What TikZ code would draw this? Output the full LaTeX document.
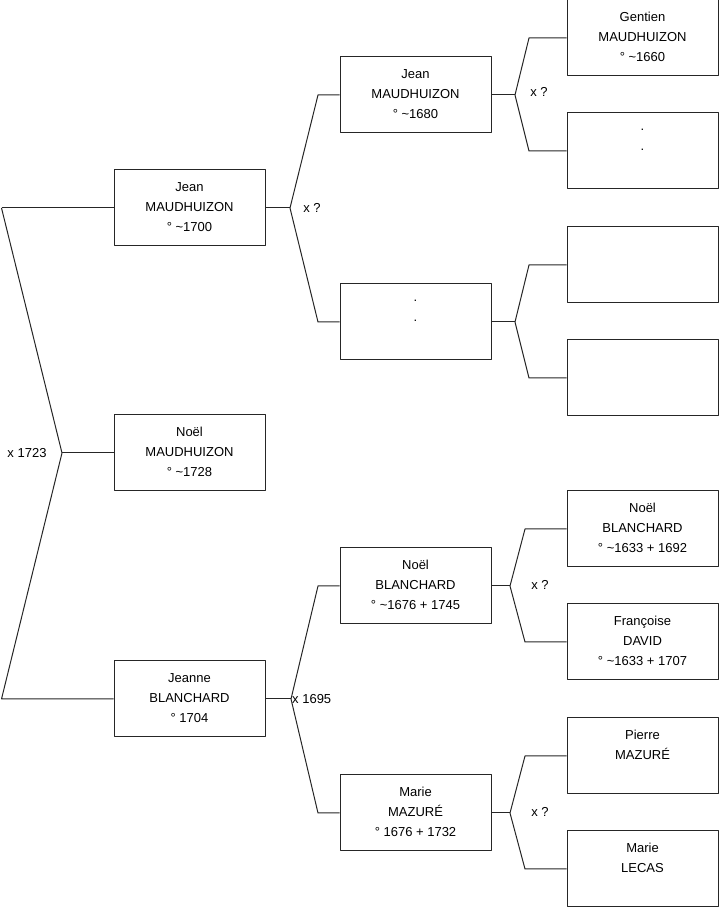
\documentclass[tikz,border=0pt]{standalone}
\usepackage{fontspec}
\setmainfont{Liberation Sans}
\begin{document}
\begin{tikzpicture}[line join=bevel,
  person/.style={draw=black!85,line width=1bp,minimum width=151bp,minimum height=76bp,inner sep=0pt,align=center,font=\fontsize{13bp}{20bp}\selectfont},
  union/.style={inner sep=0pt,font=\fontsize{13bp}{16bp}\selectfont},
  lien/.style={draw=black!85,line width=1bp}]
\useasboundingbox (0bp,0bp) rectangle (719bp,908bp);
%%
  \node (1) at (189.5bp,700.0bp) [person] {Jean\\MAUDHUIZON\\° \textasciitilde1700\vspace{2bp}};
  \node (2) at (189.5bp,455.0bp) [person] {Noël\\MAUDHUIZON\\° \textasciitilde1728\vspace{2bp}};
  \node (3) at (189.5bp,209.0bp) [person] {Jeanne\\BLANCHARD\\° 1704\vspace{2bp}};
  \node (4) at (415.5bp,813.0bp) [person] {Jean\\MAUDHUIZON\\° \textasciitilde1680\vspace{2bp}};
  \node (5) at (415.5bp,586.0bp) [person] {.\\.\\~\vspace{2bp}};
  \node (6) at (415.5bp,322.0bp) [person] {Noël\\BLANCHARD\\° \textasciitilde1676 + 1745\vspace{2bp}};
  \node (7) at (415.5bp,95.0bp) [person] {Marie\\MAZURÉ\\° 1676 + 1732\vspace{2bp}};
  \node (8) at (642.5bp,870.0bp) [person] {Gentien\\MAUDHUIZON\\° \textasciitilde1660\vspace{2bp}};
  \node (9) at (642.5bp,757.0bp) [person] {.\\.\\~\vspace{2bp}};
  \node (10) at (642.5bp,643.0bp) [person] {};
  \node (11) at (642.5bp,530.0bp) [person] {};
  \node (12) at (642.5bp,379.0bp) [person] {Noël\\BLANCHARD\\° \textasciitilde1633 + 1692\vspace{2bp}};
  \node (13) at (642.5bp,266.0bp) [person] {Françoise\\DAVID\\° \textasciitilde1633 + 1707\vspace{2bp}};
  \node (14) at (642.5bp,152.0bp) [person] {Pierre\\MAZURÉ\\~\vspace{2bp}};
  \node (15) at (642.5bp,39.0bp) [person] {Marie\\LECAS\\~\vspace{2bp}};
  \node (40) at (27.0bp,455.0bp) [union] {x 1723};
  \node (41) at (312.0bp,700.0bp) [union] {x ?};
  \node (42) at (539.0bp,816.0bp) [union] {x ?};
  \node (43) at (292.0bp,209.0bp) [union,anchor=west] {x 1695};
  \node (44) at (540.0bp,323.0bp) [union] {x ?};
  \node (45) at (540.0bp,96.0bp) [union] {x ?};
  \coordinate (16) at (1.5bp,700.0bp);
  \coordinate (17) at (62.0bp,455.0bp);
  \coordinate (18) at (1.5bp,209.0bp);
  \coordinate (19) at (290.0bp,700.0bp);
  \coordinate (20) at (318.0bp,813.0bp);
  \coordinate (21) at (318.0bp,586.0bp);
  \coordinate (22) at (515.0bp,813.0bp);
  \coordinate (23) at (529.0bp,870.0bp);
  \coordinate (24) at (529.0bp,757.0bp);
  \coordinate (25) at (515.0bp,586.0bp);
  \coordinate (26) at (529.0bp,643.0bp);
  \coordinate (27) at (529.0bp,530.0bp);
  \coordinate (28) at (291.0bp,209.0bp);
  \coordinate (29) at (318.0bp,322.0bp);
  \coordinate (30) at (318.0bp,95.0bp);
  \coordinate (31) at (510.0bp,322.0bp);
  \coordinate (32) at (525.0bp,379.0bp);
  \coordinate (33) at (525.0bp,266.0bp);
  \coordinate (34) at (510.0bp,95.0bp);
  \coordinate (35) at (525.0bp,152.0bp);
  \coordinate (36) at (525.0bp,39.0bp);
  \draw [lien] (16) -- (1.west |- 16);
  \draw [lien] (16) -- (17) -- (18) -- (3.west |- 18);
  \draw [lien] (17) -- (2.west |- 17);
  \draw [lien] (1.east |- 19) -- (19);
  \draw [lien] (4.west |- 20) -- (20) -- (19) -- (21) -- (5.west |- 21);
  \draw [lien] (4.east |- 22) -- (22);
  \draw [lien] (8.west |- 23) -- (23) -- (22) -- (24) -- (9.west |- 24);
  \draw [lien] (5.east |- 25) -- (25);
  \draw [lien] (10.west |- 26) -- (26) -- (25) -- (27) -- (11.west |- 27);
  \draw [lien] (3.east |- 28) -- (28);
  \draw [lien] (6.west |- 29) -- (29) -- (28) -- (30) -- (7.west |- 30);
  \draw [lien] (6.east |- 31) -- (31);
  \draw [lien] (12.west |- 32) -- (32) -- (31) -- (33) -- (13.west |- 33);
  \draw [lien] (7.east |- 34) -- (34);
  \draw [lien] (14.west |- 35) -- (35) -- (34) -- (36) -- (15.west |- 36);
%
\end{tikzpicture}
\end{document}
